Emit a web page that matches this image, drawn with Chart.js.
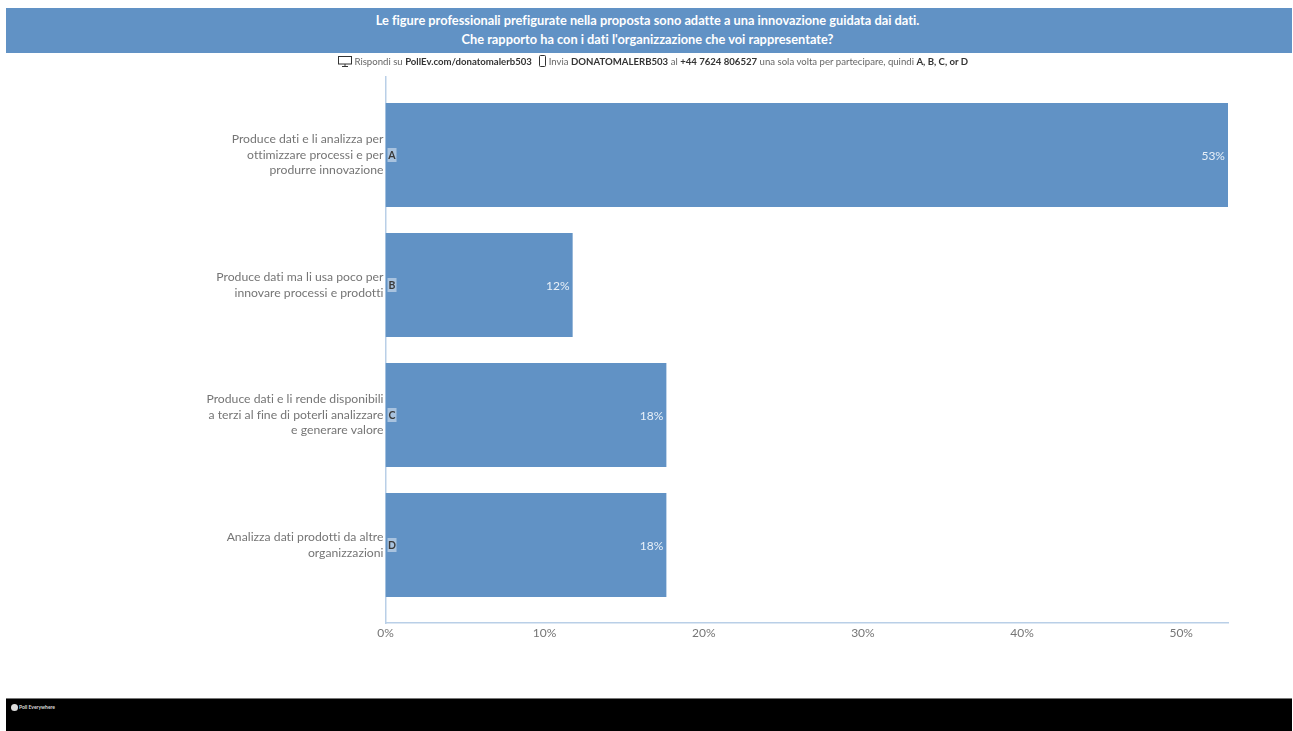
<!DOCTYPE html>
<html>
<head>
<meta charset="utf-8">
<style>
  html, body { margin: 0; padding: 0; background: #fff; overflow: hidden; }
  body { width: 1293px; height: 731px; position: relative; font-family: Lato, sans-serif; font-variant-ligatures: none; }
  #header {
    position: absolute; left: 6px; top: 8px; width: 1283px; height: 45px;
    background: #6192c5; color: #fff; text-align: center;
    font-size: 12.8px; font-weight: 700; line-height: 19px; padding-top: 3px; box-sizing: border-box;
  }
  #headerFill { position: absolute; left: 1289px; top: 8px; width: 3px; height: 45px; background: #6192c5; }
  #sub {
    position: absolute; left: 6px; top: 54px; width: 1294px; height: 16px;
    text-align: center; font-size: 9.6px; line-height: 16px; color: #666; white-space: nowrap;
  }
  #sub b { color: #333; }
  #sub svg { vertical-align: -2px; }
  #footer { position: absolute; left: 6px; top: 698px; width: 1286px; height: 33px; background: #000; border-top: 1px solid #777; box-sizing: border-box; }
  #brand { position: absolute; left: 5px; top: 4px; color: #ddd; font-size: 5px; font-weight: 700; line-height: 8px; white-space: nowrap; }
  #brand i { display: inline-block; width: 7px; height: 7px; border-radius: 50%; background: #ddd; vertical-align: -1.5px; margin-right: 1px; }
  canvas { position: absolute; left: 0; top: 0; }
</style>
<script src="https://cdn.jsdelivr.net/npm/chart.js@4"></script>
</head>
<body>
<canvas id="pollChart" width="1293" height="660"></canvas>
<div id="header">Le figure professionali prefigurate nella proposta sono adatte a una innovazione guidata dai dati.<br>Che rapporto ha con i dati l'organizzazione che voi rappresentate?</div>
<div id="headerFill"></div>
<div id="sub">
  <svg width="14" height="11" viewBox="0 0 14 11"><rect x="0.5" y="0.5" width="13" height="7.5" fill="none" stroke="#333"/><path d="M4 10.5h6M7 8v2.5" stroke="#333"/></svg>
  Rispondi su <b>PollEv.com/donatomalerb503</b> &nbsp;
  <svg width="7" height="12" viewBox="0 0 7 12"><rect x="0.5" y="0.5" width="6" height="11" rx="1" fill="none" stroke="#333"/></svg>
  Invia <b>DONATOMALERB503</b> al <b>+44 7624 806527</b> una sola volta per partecipare, quindi <b>A, B, C, or D</b>
</div>
<div id="footer"><div id="brand"><i></i>Poll Everywhere</div></div>

<script>
// Poll data
const categories = [
    ['Produce dati e li analizza per', 'ottimizzare processi e per', 'produrre innovazione'],
    ['Produce dati ma li usa poco per', 'innovare processi e prodotti'],
    ['Produce dati e li rende disponibili', 'a terzi al fine di poterli analizzare', 'e generare valore'],
    ['Analizza dati prodotti da altre', 'organizzazioni']
];
const letters = ['A', 'B', 'C', 'D'];
const percentages = [52.94, 11.76, 17.65, 17.65];
const valueLabels = ['53%', '12%', '18%', '18%'];

const barColor = '#6192c5';
const axisColor = '#b9cfe7';
const textColor = '#757575';

// Draws the percent inside the bar end and the letter tag at the bar start
const barLabels = {
    id: 'barLabels',
    beforeDraw(chart) {
        chart.ctx.letterSpacing = '0.01px'; // turns off the Lato ti ligature
    },
    afterDatasetsDraw(chart) {
        const { ctx, scales } = chart;
        ctx.save();
        ctx.textBaseline = 'middle';
        percentages.forEach((value, i) => {
            const y = scales.y.getPixelForValue(i);
            const xEnd = scales.x.getPixelForValue(value);
            const xStart = scales.x.getPixelForValue(0);

            ctx.font = '12px Lato, sans-serif';
            ctx.fillStyle = '#e8f0f8';
            ctx.textAlign = 'right';
            ctx.fillText(valueLabels[i], xEnd - 3, y + 1);

            ctx.fillStyle = '#a9c3df';
            ctx.fillRect(xStart + 2, y - 7, 9, 14);
            ctx.font = '700 10.5px Lato, sans-serif';
            ctx.fillStyle = '#3a3a3a';
            ctx.textAlign = 'center';
            ctx.fillText(letters[i], xStart + 6.5, y + 1);
        });
        ctx.restore();
    }
};

new Chart(document.getElementById('pollChart'), {
    type: 'bar',
    data: {
        datasets: [{
            data: percentages.map((value, i) => ({ x: value, y: i })),
            backgroundColor: barColor,
            categoryPercentage: 0.8,
            barPercentage: 1
        }]
    },
    plugins: [barLabels],
    options: {
        indexAxis: 'y',
        responsive: false,
        animation: false,
        layout: { padding: { top: 77, right: 65, bottom: 0, left: 0 } },
        plugins: { legend: { display: false }, tooltip: { enabled: false } },
        scales: {
            x: {
                type: 'linear',
                min: 0,
                max: 52.94,
                afterFit(scale) { scale.height = 37; },
                grid: { display: false, tickLength: 0 },
                border: { color: axisColor, width: 1.5 },
                ticks: {
                    stepSize: 10,
                    includeBounds: false,
                    maxRotation: 0,
                    padding: 3,
                    color: textColor,
                    font: { family: 'Lato, sans-serif', size: 12 },
                    callback: value => value + '%'
                }
            },
            y: {
                type: 'linear',
                reverse: true,
                offset: false,
                min: -0.6,
                max: 3.6,
                afterFit(scale) { scale.width = 385.5; },
                afterBuildTicks(scale) { scale.ticks = categories.map((c, i) => ({ value: i })); },
                grid: { display: false, offset: false, tickLength: 0 },
                border: { color: axisColor, width: 1.5 },
                ticks: {
                    padding: 2,
                    color: textColor,
                    autoSkip: false,
                    font: { family: 'Lato, sans-serif', size: 12.2, lineHeight: 1.27 },
                    callback: value => categories[value]
                }
            }
        }
    }
});
</script>
</body>
</html>
